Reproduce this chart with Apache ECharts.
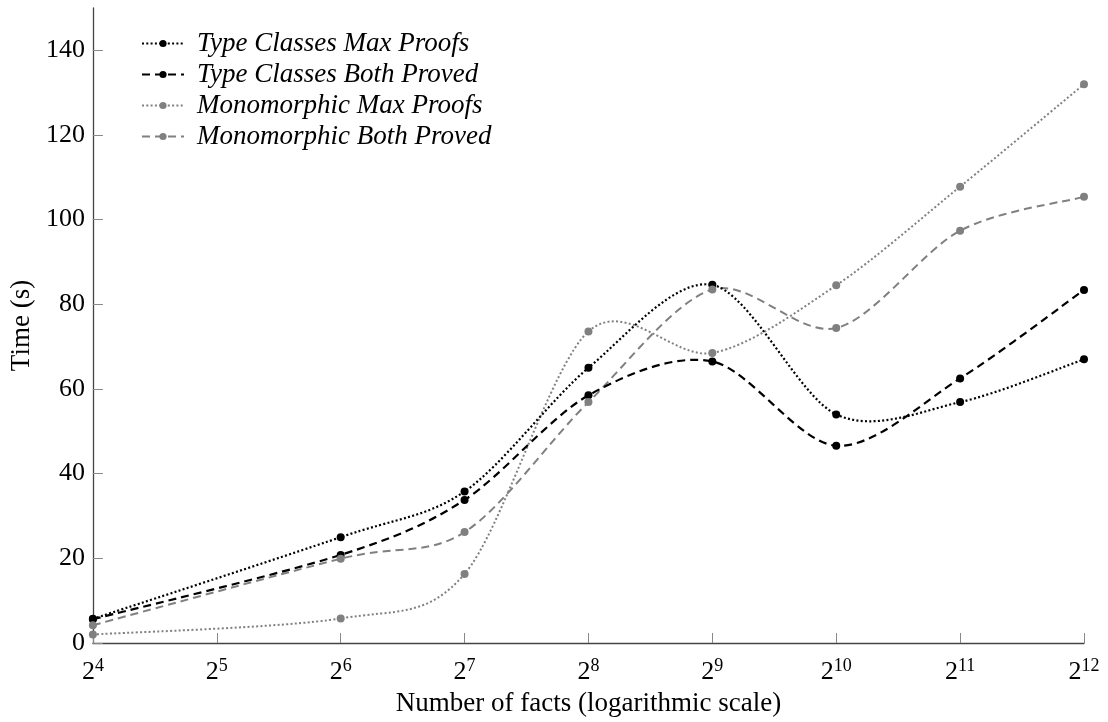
<!DOCTYPE html>
<html>
<head>
<meta charset="utf-8">
<script src="https://cdn.jsdelivr.net/npm/echarts@6/dist/echarts.min.js"></script>
<style>
html,body{margin:0;padding:0;background:#fff;}
#chart{width:1108px;height:722px;}
</style>
</head>
<body>
<div id="chart"></div>
<script>
// Number of facts (x, log2 scale)
const facts = [16, 64, 128, 256, 512, 1024, 2048, 4096];
// Time (s)
const typeClassesMaxProofs   = [5.7, 25.0, 35.8, 65.0, 84.6, 54.0, 56.9, 67.0];
const typeClassesBothProved  = [5.6, 20.8, 33.8, 58.5, 66.5, 46.6, 62.5, 83.4];
const monomorphicMaxProofs   = [2.0, 5.8, 16.3, 73.6, 68.5, 84.5, 107.8, 132.0];
const monomorphicBothProved  = [4.2, 19.9, 26.2, 56.9, 83.5, 74.4, 97.4, 105.4];
const seriesNames = ['Type Classes Max Proofs', 'Type Classes Both Proved', 'Monomorphic Max Proofs', 'Monomorphic Both Proved'];
const yTicks = [0, 20, 40, 60, 80, 100, 120, 140];
const xTicks = [16, 32, 64, 128, 256, 512, 1024, 2048, 4096];

const FONT = '"Liberation Serif", "DejaVu Serif", serif';
const pairs = vals => facts.map((f, i) => [f, vals[i]]);

const DOT = [2, 2.3];
const DASH = [8, 5];
const TENSION = 0.153; // smooth curve through the points (cardinal spline)

// points + legend entry
function pointsSeries(name, vals, color, dash, width) {
  return {
    name: name,
    type: 'line',
    data: pairs(vals),
    smooth: false,
    symbol: 'circle',
    symbolSize: 8,
    showSymbol: true,
    z: 4,
    itemStyle: { color: color },
    lineStyle: { color: color, width: width, type: dash, opacity: 0 },
    emphasis: { disabled: true },
    silent: true,
    animation: false
  };
}
// the smooth curve, positioned with the axes' own coordinate mapping
function curveSeries(vals, color, dash, width) {
  return {
    name: '_curve',
    type: 'custom',
    data: pairs(vals),
    encode: { x: 0, y: 1 },
    z: 3,
    silent: true,
    animation: false,
    renderItem: function (params, api) {
      if (params.dataIndex !== 0) return null;
      const pts = facts.map((f, i) => api.coord([f, vals[i]]));
      const n = pts.length;
      let d = 'M' + pts[0][0] + ' ' + pts[0][1];
      for (let i = 0; i < n - 1; i++) {
        const p0 = pts[Math.max(i - 1, 0)], p1 = pts[i], p2 = pts[i + 1], p3 = pts[Math.min(i + 2, n - 1)];
        const c1x = p1[0] + TENSION * (p2[0] - p0[0]);
        const c1y = p1[1] + TENSION * (p2[1] - p0[1]);
        const c2x = p2[0] - TENSION * (p3[0] - p1[0]);
        const c2y = p2[1] - TENSION * (p3[1] - p1[1]);
        d += ' C' + c1x + ' ' + c1y + ' ' + c2x + ' ' + c2y + ' ' + p2[0] + ' ' + p2[1];
      }
      return {
        type: 'path',
        shape: { pathData: d },
        style: { fill: 'none', stroke: color, lineWidth: width, lineDash: dash, lineCap: 'butt' }
      };
    }
  };
}

const chart = echarts.init(document.getElementById('chart'), null, { renderer: 'canvas' });
chart.setOption({
  animation: false,
  backgroundColor: '#fff',
  grid: { left: 92, right: 24, top: 8, bottom: 78, containLabel: false },
  legend: {
    orient: 'vertical',
    left: 141,
    top: 30,
    padding: 0,
    itemWidth: 42,
    itemHeight: 9,
    itemGap: 4,
    data: seriesNames,
    lineStyle: { opacity: 1 },
    textStyle: { fontFamily: FONT, fontStyle: 'italic', fontSize: 27, color: '#000', lineHeight: 27, padding: [0, 0, 0, 8] },
    selectedMode: false
  },
  xAxis: {
    type: 'log',
    logBase: 2,
    min: 16,
    max: 4096,
    name: 'Number of facts (logarithmic scale)',
    nameLocation: 'middle',
    nameGap: 47,
    nameTextStyle: { fontFamily: FONT, fontSize: 27, color: '#000' },
    axisLine: { show: true, lineStyle: { color: '#444', width: 1.3 } },
    axisTick: { show: true, inside: true, length: 10, lineStyle: { color: '#888', width: 1 }, customValues: xTicks },
    splitLine: { show: false },
    minorTick: { show: false },
    axisLabel: {
      margin: 14,
      customValues: xTicks,
      formatter: function (v) {
        const e = Math.round(Math.log2(v));
        return '{b|2}{s|' + e + '}';
      },
      rich: {
        b: { fontFamily: FONT, fontSize: 26, color: '#000', verticalAlign: 'bottom' },
        s: { fontFamily: FONT, fontSize: 18, color: '#000', verticalAlign: 'bottom', padding: [0, 0, 10, 0] }
      }
    }
  },
  yAxis: {
    type: 'value',
    min: 0,
    max: 150,
    name: 'Time (s)',
    nameLocation: 'middle',
    nameGap: 54,
    nameRotate: 90,
    nameTextStyle: { fontFamily: FONT, fontSize: 27, color: '#000' },
    axisLine: { show: true, lineStyle: { color: '#444', width: 1.3 } },
    axisTick: { show: true, inside: true, length: 10, lineStyle: { color: '#888', width: 1 }, customValues: yTicks },
    splitLine: { show: false },
    axisLabel: { customValues: yTicks, margin: 8, fontFamily: FONT, fontSize: 26, color: '#000' }
  },
  series: [
    curveSeries(monomorphicBothProved, '#808080', DASH, 2),
    curveSeries(monomorphicMaxProofs, '#808080', DOT, 2),
    curveSeries(typeClassesBothProved, '#000000', DASH, 2.2),
    curveSeries(typeClassesMaxProofs, '#000000', DOT, 2.2),
    pointsSeries(seriesNames[0], typeClassesMaxProofs, '#000000', DOT, 2.2),
    pointsSeries(seriesNames[1], typeClassesBothProved, '#000000', DASH, 2.2),
    pointsSeries(seriesNames[2], monomorphicMaxProofs, '#808080', DOT, 2),
    pointsSeries(seriesNames[3], monomorphicBothProved, '#808080', DASH, 2)
  ]
});
</script>
</body>
</html>
